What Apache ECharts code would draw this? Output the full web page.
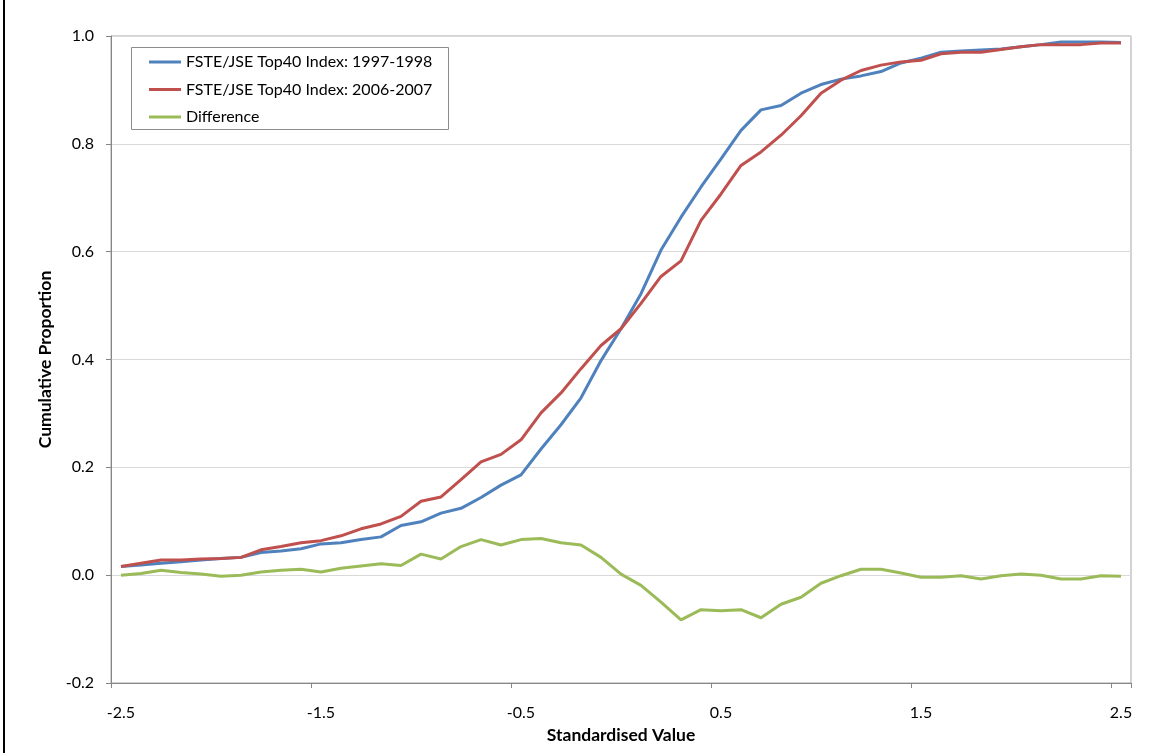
<!DOCTYPE html>
<html>
<head>
<meta charset="utf-8">
<script src="https://cdn.jsdelivr.net/npm/echarts@6/dist/echarts.min.js"></script>
<style>
html,body{margin:0;padding:0;background:#fff;}
#chart{width:1155px;height:753px;}
</style>
</head>
<body>
<div id="chart"></div>
<script>
const categories = ["-2.5","-2.4","-2.3","-2.2","-2.1","-2.0","-1.9","-1.8","-1.7","-1.6",
  "-1.5","-1.4","-1.3","-1.2","-1.1","-1.0","-0.9","-0.8","-0.7","-0.6",
  "-0.5","-0.4","-0.3","-0.2","-0.1","0.0","0.1","0.2","0.3","0.4",
  "0.5","0.6","0.7","0.8","0.9","1.0","1.1","1.2","1.3","1.4",
  "1.5","1.6","1.7","1.8","1.9","2.0","2.1","2.2","2.3","2.4","2.5"];

const series1997 = [0.016,0.019,0.022,0.025,0.028,0.031,0.033,0.042,0.045,0.049,
  0.058,0.060,0.066,0.071,0.092,0.099,0.115,0.124,0.144,0.167,
  0.186,0.234,0.279,0.329,0.398,0.457,0.522,0.603,0.664,0.720,
  0.772,0.825,0.863,0.871,0.894,0.910,0.920,0.926,0.934,0.950,
  0.959,0.970,0.972,0.974,0.976,0.980,0.984,0.989,0.989,0.989,0.988];

const series2006 = [0.016,0.022,0.028,0.028,0.030,0.031,0.033,0.047,0.053,0.060,
  0.064,0.073,0.086,0.095,0.109,0.137,0.145,0.177,0.210,0.224,
  0.251,0.301,0.338,0.383,0.426,0.457,0.504,0.554,0.583,0.658,
  0.707,0.760,0.785,0.816,0.852,0.894,0.918,0.936,0.946,0.952,
  0.955,0.967,0.970,0.970,0.975,0.980,0.984,0.984,0.984,0.987,0.987];

const difference = [0.000,0.003,0.009,0.005,0.002,-0.002,0.000,0.006,0.009,0.011,
  0.006,0.013,0.017,0.021,0.018,0.039,0.030,0.053,0.066,0.056,
  0.066,0.068,0.060,0.056,0.033,0.002,-0.019,-0.050,-0.083,-0.064,
  -0.066,-0.064,-0.079,-0.054,-0.041,-0.015,-0.001,0.011,0.011,0.004,
  -0.004,-0.004,-0.001,-0.007,-0.001,0.002,0.000,-0.007,-0.007,-0.001,-0.002];

const seriesNames = ["FSTE/JSE Top40 Index: 1997-1998","FSTE/JSE Top40 Index: 2006-2007","Difference"];
const colors = ["#4F81BD","#C0504D","#9BBB59"];

const FONT = "Lato";
const chart = echarts.init(document.getElementById('chart'), null, {renderer:'canvas'});

function lineSeries(name, data, color){
  return {
    name: name, type: 'line', data: data,
    showSymbol: false, symbol: 'none',
    lineStyle: {color: color, width: 3},
    itemStyle: {color: color},
    animation: false
  };
}

chart.setOption({
  animation: false,
  backgroundColor: '#fff',
  textStyle: {fontFamily: FONT},
  grid: {left: 111, right: 24, top: 36, bottom: 70, show: true, borderColor: '#a6a6a6', borderWidth: 1, containLabel: false},
  graphic: [
    {type: 'line', shape: {x1: 4, y1: 0, x2: 4, y2: 753}, style: {stroke: '#000', lineWidth: 2}, z: 100},
    {type: 'rect', shape: {x: 131.5, y: 47.5, width: 317, height: 82}, style: {fill: '#fff', stroke: '#8c8c8c', lineWidth: 1}, z: 50}
  ],
  legend: {
    show: true,
    orient: 'vertical',
    left: 149, top: 53,
    padding: 0,
    itemGap: 9.5,
    itemWidth: 32, itemHeight: 3,
    icon: 'rect',
    z: 60,
    selectedMode: false,
    data: seriesNames,
    textStyle: {fontFamily: FONT, fontSize: 16, color: '#000', lineHeight: 18}
  },
  xAxis: {
    type: 'category',
    data: categories,
    boundaryGap: true,
    name: 'Standardised Value',
    nameLocation: 'middle',
    nameGap: 42,
    nameTextStyle: {fontFamily: FONT, fontSize: 17.5, fontWeight: 'bold', color: '#000'},
    axisLine: {show: true, onZero: false, lineStyle: {color: '#868686', width: 1}},
    axisTick: {show: true, interval: 9, length: 5, lineStyle: {color: '#868686'}},
    axisLabel: {interval: 9, margin: 22, fontFamily: FONT, fontSize: 16, color: '#000'},
    splitLine: {show: false}
  },
  yAxis: {
    type: 'value',
    min: -0.2, max: 1.0, interval: 0.2,
    name: 'Cumulative Proportion',
    nameLocation: 'middle',
    nameGap: 57,
    nameRotate: 90,
    nameTextStyle: {fontFamily: FONT, fontSize: 17.5, fontWeight: 'bold', color: '#000'},
    axisLine: {show: true, lineStyle: {color: '#868686', width: 1}},
    axisTick: {show: true, length: 5, lineStyle: {color: '#868686'}},
    axisLabel: {margin: 17, fontFamily: FONT, fontSize: 16, color: '#000', formatter: function(v){ return (Math.round(v*10)/10).toFixed(1); }},
    splitLine: {show: true, lineStyle: {color: '#d9d9d9', width: 1}}
  },
  series: [
    lineSeries(seriesNames[0], series1997, colors[0]),
    lineSeries(seriesNames[1], series2006, colors[1]),
    lineSeries(seriesNames[2], difference, colors[2])
  ]
});
</script>
</body>
</html>
